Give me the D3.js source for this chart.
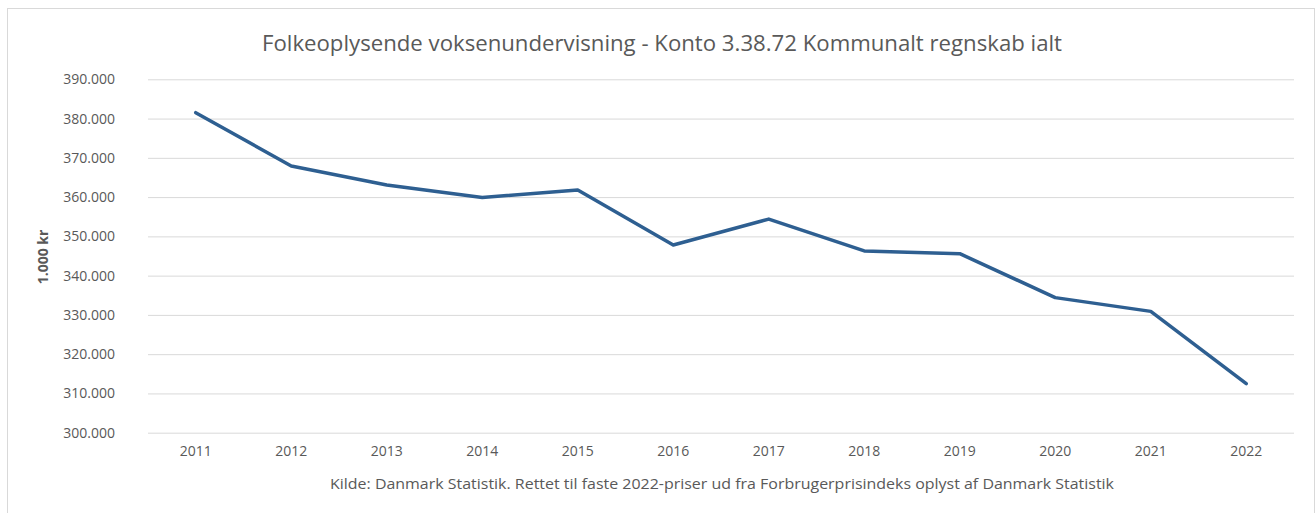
<!DOCTYPE html>
<html>
<head>
<meta charset="utf-8">
<script src="https://cdn.jsdelivr.net/npm/d3@7"></script>
<style>
  body { margin: 0; background: #fff; }
  svg text { font-family: "Open Sans", "DejaVu Sans", sans-serif; fill: #595959; }
</style>
</head>
<body>
<div id="chart"></div>
<script>
// data (1.000 kr)
const years = ['2011','2012','2013','2014','2015','2016','2017','2018','2019','2020','2021','2022'];
const values = [381500, 367900, 363100, 359900, 361800, 347800, 354400, 346300, 345600, 334400, 330900, 312500];
const yTicks = [300000, 310000, 320000, 330000, 340000, 350000, 360000, 370000, 380000, 390000];

const titleText = 'Folkeoplysende voksenundervisning - Konto 3.38.72 Kommunalt regnskab ialt';
const yLabelText = '1.000 kr';
const sourceText = 'Kilde: Danmark Statistik. Rettet til faste 2022-priser ud fra Forbrugerprisindeks oplyst af Danmark Statistik';

const width = 1316, height = 513;
const margin = {top: 79.3, right: 22, bottom: 80.3, left: 148};

const svg = d3.select('#chart').append('svg')
    .attr('width', width)
    .attr('height', height);

// chart area border
svg.append('rect')
    .attr('x', 7.5).attr('y', 8.5)
    .attr('width', 1307).attr('height', 520)
    .attr('fill', 'none')
    .attr('stroke', '#d9d9d9');

const x = d3.scaleBand(years, [margin.left, width - margin.right]);
const y = d3.scaleLinear([300000, 390000], [height - margin.bottom, margin.top]);

const fmt = v => d3.format(',')(v).replace(/,/g, '.');

// gridlines
const grid = svg.append('g')
    .attr('transform', `translate(${margin.left},0)`)
    .call(d3.axisLeft(y).tickValues(yTicks).tickFormat('')
        .tickSize(-(width - margin.left - margin.right)));
grid.select('.domain').remove();
grid.selectAll('.tick line').attr('stroke', '#d9d9d9').attr('stroke-width', 1);

// y labels (separate axis so the label gap is its own)
const yAxis = svg.append('g')
    .attr('transform', `translate(${margin.left},0)`)
    .call(d3.axisLeft(y).tickValues(yTicks).tickFormat(fmt)
        .tickSize(0).tickPadding(33));
yAxis.select('.domain').remove();
yAxis.selectAll('.tick text').style('font-size', '14px');

// x labels
const xAxis = svg.append('g')
    .attr('transform', `translate(0,${height - margin.bottom})`)
    .call(d3.axisBottom(x).tickSize(0).tickPadding(13));
xAxis.select('.domain').remove();
xAxis.selectAll('.tick text').style('font-size', '14px');

// line
const line = d3.line()
    .x((d, i) => x(years[i]) + x.bandwidth() / 2)
    .y(d => y(d));

svg.append('path')
    .datum(values)
    .attr('fill', 'none')
    .attr('stroke', '#2e5f91')
    .attr('stroke-width', 3.5)
    .attr('stroke-linejoin', 'round')
    .attr('stroke-linecap', 'round')
    .attr('d', line);

// title
svg.append('text')
    .attr('x', 662).attr('y', 51)
    .attr('text-anchor', 'middle')
    .style('font-size', '21px')
    .attr('textLength', 800)
    .attr('lengthAdjust', 'spacingAndGlyphs')
    .text(titleText);

// y axis title
svg.append('text')
    .attr('transform', `translate(48,257)rotate(-90)`)
    .attr('text-anchor', 'middle')
    .style('font-size', '14px')
    .style('font-weight', 'bold')
    .text(yLabelText);

// source note
svg.append('text')
    .attr('x', 722).attr('y', 489)
    .attr('text-anchor', 'middle')
    .style('font-size', '14.5px')
    .attr('textLength', 784)
    .attr('lengthAdjust', 'spacingAndGlyphs')
    .text(sourceText);
</script>
</body>
</html>
